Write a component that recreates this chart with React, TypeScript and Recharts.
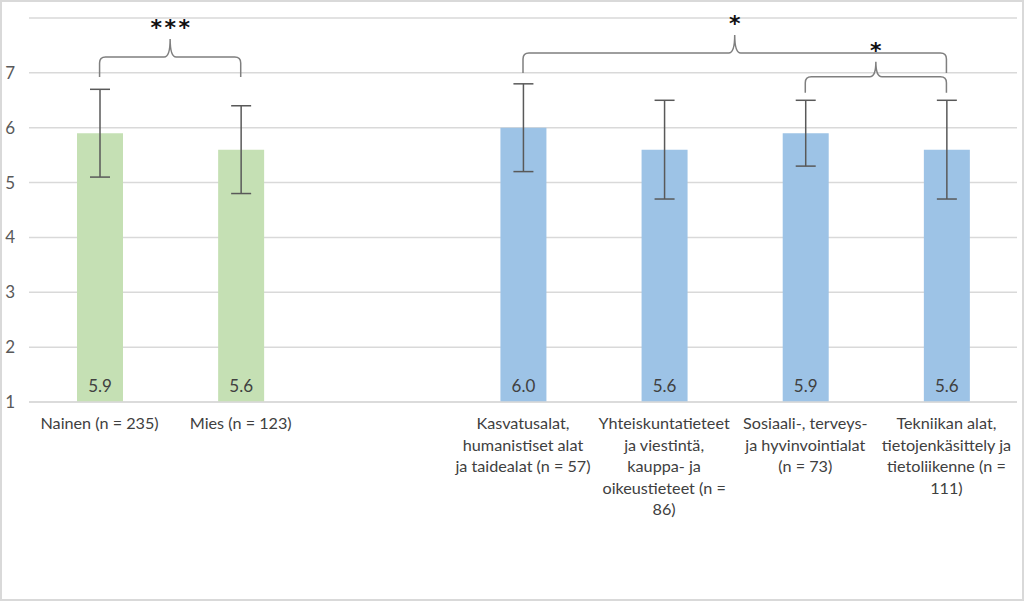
import React from 'react';
import { BarChart, Bar, XAxis, YAxis, CartesianGrid, ErrorBar, LabelList, Cell, ReferenceLine } from 'recharts';

const categories: string[] = [
  'Nainen (n = 235)',
  'Mies (n = 123)',
  '',
  'Kasvatusalat,\nhumanistiset alat\nja taidealat (n = 57)',
  'Yhteiskuntatieteet\nja viestintä,\nkauppa- ja\noikeustieteet (n =\n86)',
  'Sosiaali-, terveys-\nja hyvinvointialat\n(n = 73)',
  'Tekniikan alat,\ntietojenkäsittely ja\ntietoliikenne (n =\n111)',
];
const means: (number | null)[] = [5.9, 5.6, null, 6.0, 5.6, 5.9, 5.6];
const errors: (number | null)[] = [0.8, 0.8, null, 0.8, 0.9, 0.6, 0.9];
const groups: string[] = ['gender', 'gender', '', 'field', 'field', 'field', 'field'];
const yTicks: number[] = [1, 2, 3, 4, 5, 6, 7];

const brackets = [
  { from: 0, to: 1, level: 7.29, label: '***' },
  { from: 3, to: 6, level: 7.36, label: '*' },
  { from: 5, to: 6, level: 6.93, label: '*' },
];

const groupColor: Record<string, string> = { gender: '#C5E0B4', field: '#9DC3E6', '': 'transparent' };

const data = categories.map((label, i) => ({ label, value: means[i], err: errors[i], group: groups[i] }));

const FONT = 'Lato, "Open Sans", sans-serif';

const XTick = (props: any) => {
  const { x, y, payload } = props;
  const lines = String(payload.value).split('\n');
  return (
    <g>
      {lines.map((ln, i) => (
        <text key={i} x={x} y={y + 27 + i * 21.5} textAnchor="middle" fill="#404040" fontSize={16.2} fontFamily={FONT}>
          {ln}
        </text>
      ))}
    </g>
  );
};

const makeBracket = (label: string, drop: number, peak: number) => (p: any) => {
  const { x1, x2, y1 } = p;
  const y = y1;
  const xm = (x1 + x2) / 2;
  const r = 6;
  const d = `M${x1},${y + drop} L${x1},${y + r} Q${x1},${y} ${x1 + r},${y} L${xm - r},${y} Q${xm},${y} ${xm},${y - peak} Q${xm},${y} ${xm + r},${y} L${x2 - r},${y} Q${x2},${y} ${x2},${y + r} L${x2},${y + drop}`;
  return (
    <g>
      <path d={d} fill="none" stroke="#7F7F7F" strokeWidth={1.5} />
      <text x={xm} y={y - peak - 4} textAnchor="middle" fontSize={22} fontWeight="bold" fontFamily="'DejaVu Sans', sans-serif" fill="#111" letterSpacing={2.5} dx={1.25}>
        {label}
      </text>
    </g>
  );
};

export default function App() {
  return (
    <div style={{ position: 'absolute', left: 0, top: 0, width: 1024, height: 601, boxSizing: 'border-box', border: '2px solid #D9D9D9', background: '#fff' }}>
      <div style={{ position: 'absolute', left: -2, top: -2 }}>
        <BarChart width={1024} height={601} data={data} margin={{ top: 18, right: 7, left: 0, bottom: 9 }} barCategoryGap={0}>
          <CartesianGrid vertical={false} stroke="#D9D9D9" strokeWidth={1.5} />
          <XAxis dataKey="label" height={190} interval={0} axisLine={{ stroke: '#D9D9D9', strokeWidth: 1.5 }} tickLine={false} tickSize={0} tickMargin={0} tick={<XTick />} />
          <YAxis domain={[1, 8]} ticks={yTicks} width={29} axisLine={false} tickLine={false} tickSize={0} tickMargin={14} tick={{ fill: '#595959', fontSize: 17, fontFamily: FONT }} />
          <Bar dataKey="value" barSize={46} isAnimationActive={false}>
            {data.map((d, i) => (
              <Cell key={i} fill={groupColor[d.group]} />
            ))}
            <ErrorBar dataKey="err" stroke="#595959" strokeWidth={1.5} width={10} direction="y" />
            <LabelList dataKey="value" position="insideBottom" offset={10} fill="#404040" fontSize={17} fontFamily={FONT} formatter={(v: any) => (v == null ? '' : Number(v).toFixed(1))} />
          </Bar>
          {brackets.map((b, i) => (
            <ReferenceLine
              key={i}
              ifOverflow="visible"
              segment={[
                { x: categories[b.from], y: b.level },
                { x: categories[b.to], y: b.level },
              ]}
              shape={makeBracket(b.label, i === 2 ? 16 : 20, i === 2 ? 15 : 18)}
            />
          ))}
        </BarChart>
      </div>
    </div>
  );
}
